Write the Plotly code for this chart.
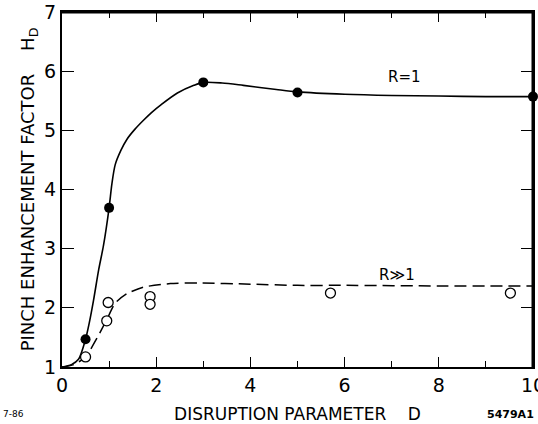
import plotly.graph_objects as go

# Measured data points
d_r1 = [0.5, 1.0, 3.0, 5.0, 10.0]
h_r1 = [1.47, 3.69, 5.81, 5.64, 5.57]

d_rgg = [0.5, 0.95, 0.98, 1.87, 1.87, 5.7, 9.52]
h_rgg = [1.17, 1.78, 2.09, 2.19, 2.06, 2.25, 2.25]

# Curves
d_curve_r1 = [0, 0.2, 0.35, 0.5, 0.58, 0.67, 0.78, 0.88, 1.0, 1.06, 1.13, 1.25, 1.38, 1.55, 1.73,
              1.9, 2.1, 2.45, 2.8, 3.0, 3.4, 3.85, 4.55, 5.0, 6, 7, 8, 9, 10]
h_curve_r1 = [1.0, 1.04, 1.13, 1.47, 1.75, 2.13, 2.65, 3.05, 3.69, 4.1, 4.42, 4.66, 4.85, 5.02, 5.17,
              5.3, 5.43, 5.63, 5.76, 5.81, 5.8, 5.76, 5.69, 5.65, 5.61, 5.59, 5.58, 5.57, 5.57]

d_curve_rgg = [0, 0.25, 0.5, 0.75, 0.95, 1.13, 1.38, 1.73, 2.3, 2.9, 4, 5, 6, 8, 10]
h_curve_rgg = [1.0, 1.04, 1.17, 1.5, 1.8, 2.08, 2.24, 2.35, 2.41, 2.42, 2.4, 2.38, 2.38, 2.37, 2.37]

x_ticks = [0, 2, 4, 6, 8, 10]
y_ticks = [1, 2, 3, 4, 5, 6, 7]

FONT = "DejaVu Sans"
x0, x1 = x_ticks[0], x_ticks[-1]
y0, y1 = y_ticks[0], y_ticks[-1]

fig = go.Figure()
fig.add_trace(go.Scatter(x=[x0, x1, x1], y=[y1, y1, y0], mode="lines",
                         line=dict(color="black", width=3),
                         showlegend=False, hoverinfo="skip"))
fig.add_trace(go.Scatter(x=d_curve_r1, y=h_curve_r1, mode="lines",
                         line=dict(color="black", width=1.6, shape="spline", smoothing=0.8),
                         showlegend=False, hoverinfo="skip"))
fig.add_trace(go.Scatter(x=d_curve_rgg, y=h_curve_rgg, mode="lines",
                         line=dict(color="black", width=1.5, dash="12px,6px", shape="spline", smoothing=0.6),
                         showlegend=False, hoverinfo="skip"))
fig.add_trace(go.Scatter(x=d_r1, y=h_r1, mode="markers",
                         marker=dict(color="black", size=10, symbol="circle"),
                         showlegend=False, cliponaxis=False))
fig.add_trace(go.Scatter(x=d_rgg, y=h_rgg, mode="markers",
                         marker=dict(color="white", size=10, symbol="circle",
                                     line=dict(color="black", width=1.3)),
                         showlegend=False, cliponaxis=False))

# top and right frame edges as shapes in data coordinates
fig.add_shape(type="line", xref="x", yref="y", x0=x0, x1=x1, y0=y1, y1=y1,
              line=dict(color="black", width=2), layer="above")
fig.add_shape(type="line", xref="x", yref="y", x0=x1, x1=x1, y0=y0, y1=y1,
              line=dict(color="black", width=2), layer="above")

fig.add_annotation(x=7.27, y=5.9, text="R=1", showarrow=False,
                   font=dict(family=FONT, size=15, color="black"))
fig.add_annotation(x=7.12, y=2.56, text="R≫1", showarrow=False,
                   font=dict(family=FONT, size=15, color="black"))
fig.add_annotation(xref="paper", yref="paper", x=-0.102, y=-0.132, text="7-86",
                   xanchor="center", yanchor="middle",
                   showarrow=False, font=dict(family=FONT, size=9, color="black"))
fig.add_annotation(xref="paper", yref="paper", x=1.006, y=-0.135, text="5479A1",
                   showarrow=False, xanchor="right", yanchor="middle",
                   font=dict(family=FONT, size=11, color="black", weight="bold"))

axis_x = dict(range=[x0, x1], tickvals=x_ticks, ticktext=[str(v) for v in x_ticks],
              ticks="inside", ticklen=10, tickwidth=1.3, tickcolor="black",
              minor=dict(dtick=1, ticks="inside", ticklen=6, tickwidth=1.3, tickcolor="black"),
              showline=True, linecolor="black", linewidth=2, mirror="allticks",
              showgrid=False, zeroline=False, automargin=False, ticklabeloverflow="allow",
              tickfont=dict(family=FONT, size=19, color="black"),
              title=dict(text="DISRUPTION PARAMETER    D", standoff=13,
                         font=dict(family=FONT, size=17, color="black")))
axis_y = dict(range=[y0, y1], tickvals=y_ticks, ticktext=[str(v) for v in y_ticks],
              ticks="inside", ticklen=12, tickwidth=1.3, tickcolor="black",
              showline=True, linecolor="black", linewidth=2, mirror="allticks",
              showgrid=False, zeroline=False, automargin=False, ticklabeloverflow="allow",
              tickfont=dict(family=FONT, size=19, color="black"),
              title=dict(text="PINCH ENHANCEMENT FACTOR    H<sub>D</sub>", standoff=5,
                         font=dict(family=FONT, size=18, color="black")))

fig.update_layout(
    xaxis=axis_x, yaxis=axis_y,
    width=538, height=424, margin=dict(l=62, r=5, t=12, b=57, autoexpand=False),
    plot_bgcolor="white", paper_bgcolor="white")

fig.write_html("out.html", config={"displayModeBar": False},
               post_script="document.body.style.margin='0';document.documentElement.style.overflow='hidden';")
